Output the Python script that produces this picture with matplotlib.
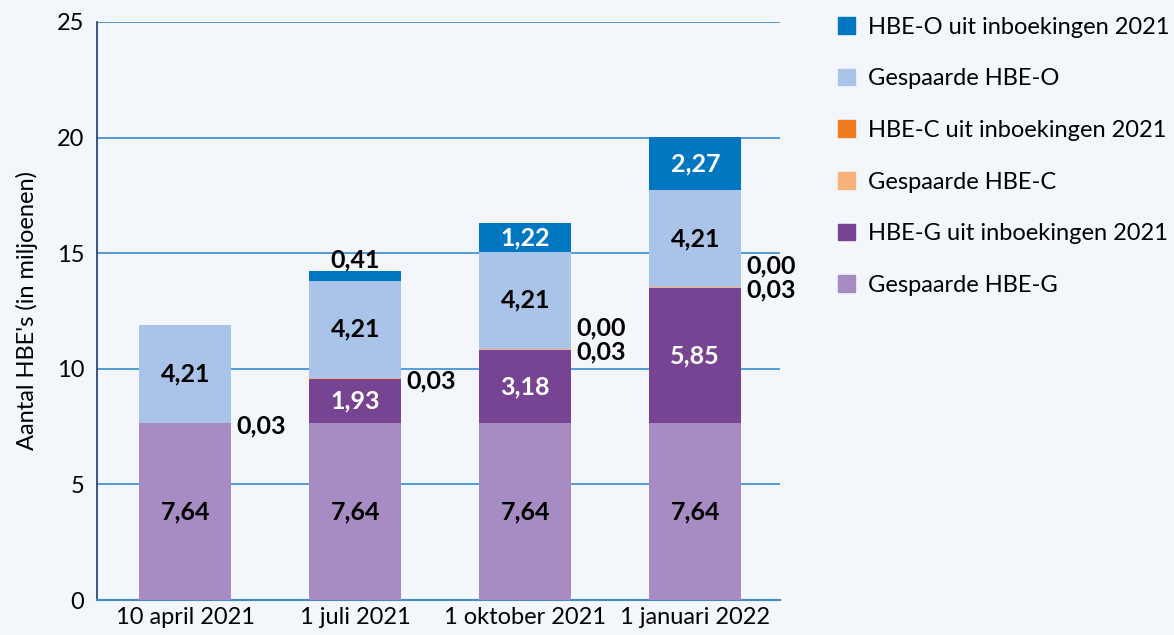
import numpy as np
import matplotlib.pyplot as plt
from matplotlib.patches import Patch

plt.rcParams['font.family'] = ['Lato', 'DejaVu Sans']

# Gegevens (in miljoenen)
categories = ["10 april 2021", "1 juli 2021", "1 oktober 2021", "1 januari 2022"]
gespaard_g = [7.64, 7.64, 7.64, 7.64]
inboek_g = [0.0, 1.93, 3.18, 5.85]
gespaard_c = [0.03, 0.03, 0.03, 0.03]
inboek_c = [0.0, 0.0, 0.004, 0.004]
gespaard_o = [4.21, 4.21, 4.21, 4.21]
inboek_o = [0.0, 0.41, 1.22, 2.27]

c_label_00 = [None, None, "0,00", "0,00"]

series = [
    ("Gespaarde HBE-G", gespaard_g, "#a78cc3"),
    ("HBE-G uit inboekingen 2021", inboek_g, "#764493"),
    ("Gespaarde HBE-C", gespaard_c, "#f7b27a"),
    ("HBE-C uit inboekingen 2021", inboek_c, "#ee7a22"),
    ("Gespaarde HBE-O", gespaard_o, "#a9c4e8"),
    ("HBE-O uit inboekingen 2021", inboek_o, "#0077c0"),
]

bg = "#f3f6fb"
lfs = 18  # labels in de staven
fig = plt.figure(figsize=(11.74, 6.35), dpi=100, facecolor=bg)
ax = fig.add_axes([0.0826, 0.0551, 0.582, 0.9103], facecolor=bg)

x = np.arange(len(categories))
w = 0.54
bottom = np.zeros(len(categories))
for name, vals, col in series:
    ax.bar(x, vals, w, bottom=bottom, color=col, zorder=3, linewidth=0)
    bottom += np.array(vals)

def fmt(v):
    return f"{v:.2f}".replace(".", ",")

for i in range(len(categories)):
    # Gespaarde G
    ax.text(x[i], gespaard_g[i] / 2, fmt(gespaard_g[i]), ha="center", va="center",
            fontsize=lfs, fontweight="bold", color="black", zorder=4)
    base = gespaard_g[i]
    if inboek_g[i] > 0:
        ax.text(x[i], base + inboek_g[i] / 2, fmt(inboek_g[i]), ha="center", va="center",
                fontsize=lfs, fontweight="bold", color="white", zorder=4)
    base += inboek_g[i]
    # HBE-C labels naast de staaf
    ax.text(x[i] + 0.3, base - 0.1, fmt(gespaard_c[i]), ha="left", va="center",
            fontsize=lfs, fontweight="bold", color="black", zorder=4)
    if c_label_00[i]:
        ax.text(x[i] + 0.3, base + 0.95, c_label_00[i], ha="left", va="center",
                fontsize=lfs, fontweight="bold", color="black", zorder=4)
    base += gespaard_c[i] + inboek_c[i]
    ax.text(x[i], base + gespaard_o[i] / 2, fmt(gespaard_o[i]), ha="center", va="center",
            fontsize=lfs, fontweight="bold", color="black", zorder=4)
    base += gespaard_o[i]
    if inboek_o[i] > 0.8:
        ax.text(x[i], base + inboek_o[i] / 2, fmt(inboek_o[i]), ha="center", va="center",
                fontsize=lfs, fontweight="bold", color="white", zorder=4)
    elif inboek_o[i] > 0:
        ax.text(x[i], base + inboek_o[i] + 0.5, fmt(inboek_o[i]), ha="center", va="center",
                fontsize=lfs, fontweight="bold", color="black", zorder=4)

ax.set_xlim(-0.52, 3.5)
ax.set_ylim(0, 25)
ax.set_yticks([0, 5, 10, 15, 20, 25])
ax.set_xticks(x)
ax.set_xticklabels(categories)
ax.tick_params(axis="both", length=0, labelsize=17, pad=5)
ax.tick_params(axis="y", pad=9)
ax.yaxis.grid(True, color="#3a8dcf", linewidth=1.2, zorder=0)
ax.set_axisbelow(True)
for s in ["top", "right"]:
    ax.spines[s].set_visible(False)
ax.spines["left"].set_color("#1c3b6a")
ax.spines["left"].set_linewidth(1.2)
ax.spines["bottom"].set_color("#3a8dcf")
ax.spines["bottom"].set_linewidth(1.5)
ax.set_ylabel("Aantal HBE's (in miljoenen)", fontsize=17, labelpad=14)

handles = [Patch(color=col, label=name) for name, vals, col in series[::-1]]
fig.legend(handles=handles, loc="upper left", bbox_to_anchor=(0.714, 0.974),
           frameon=False, fontsize=17, handlelength=0.72, handleheight=0.72,
           handletextpad=0.55, labelspacing=1.3, borderpad=0, borderaxespad=0)

fig.savefig("out.png", dpi=100, facecolor=bg)
